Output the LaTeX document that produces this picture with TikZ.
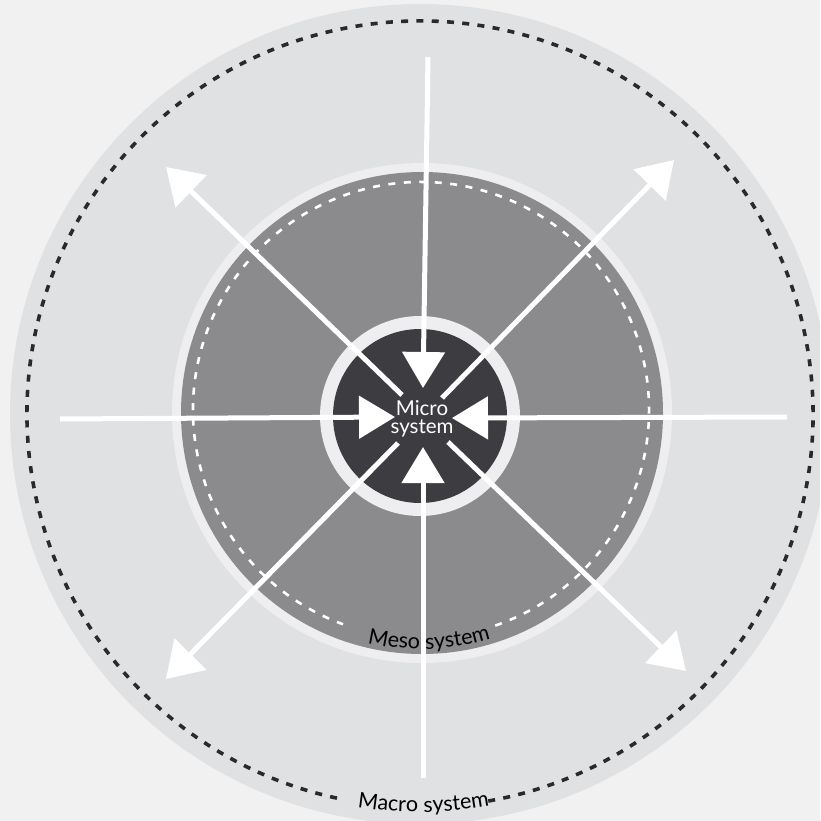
\documentclass[tikz,border=0pt]{standalone}
\usepackage{fontspec}
\setmainfont{Lato}
\usetikzlibrary{arrows.meta,decorations.text}
\definecolor{bgcol}{HTML}{F1F1F1}
\definecolor{macrofill}{HTML}{E0E1E3}
\definecolor{ringfill}{HTML}{EEEEF0}
\definecolor{mesofill}{HTML}{8B8B8E}
\definecolor{microfill}{HTML}{3D3C40}
\definecolor{dotcol}{HTML}{2A2A2A}
\begin{document}
\begin{tikzpicture}[x=1pt,y=-1pt,
  flow/.style={white, line width=5pt, -{Triangle[length=36pt,width=42pt]}},
  outflow/.style={white, line width=5pt, -{Triangle[length=35pt,width=44pt]}}]
\clip (0,0) rectangle (820,821);
\fill[bgcol] (0,0) rectangle (820,821);
% macro system
\fill[macrofill] (420,414) circle[radius=410];
\draw[dotcol, line width=3.6pt, dash pattern=on 7pt off 8.3pt]
  (420,414) ++(80:393) arc[start angle=80, end angle=-259, radius=393];
% meso system
\fill[ringfill] (422,413) circle[radius=250];
\fill[mesofill] (422,413) circle[radius=241];
\draw[white, line width=2.6pt, dash pattern=on 7pt off 8.5pt]
  (421,410) ++(71:228) arc[start angle=71, end angle=-250, radius=228];
% micro system
\fill[ringfill] (420,416) circle[radius=100];
\fill[microfill] (420,416) circle[radius=87];
% coordinates for arrows
\coordinate (nT) at (428,57);  \coordinate (tT) at (423,388);
\coordinate (nL) at (60,419);  \coordinate (tL) at (395,417);
\coordinate (nR) at (787,417); \coordinate (tR) at (452,418);
\coordinate (nB) at (423,778); \coordinate (tB) at (423,447);
\coordinate (sUL) at (402,395); \coordinate (eUL) at (166,167);
\coordinate (sUR) at (442,398); \coordinate (eUR) at (674,160);
\coordinate (sLL) at (398,443); \coordinate (eLL) at (166,679);
\coordinate (sLR) at (448,442); \coordinate (eLR) at (686,671);
\draw[flow] (nT) -- (tT);
\draw[flow] (nL) -- (tL);
\draw[flow] (nR) -- (tR);
\draw[flow] (nB) -- (tB);
\draw[outflow] (sUL) -- (eUL);
\draw[outflow] (sUR) -- (eUR);
\draw[outflow] (sLL) -- (eLL);
\draw[outflow] (sLR) -- (eLR);
% labels
\node[text=white, align=center, inner sep=0pt, font=\fontsize{20.5}{18.5}\selectfont] (micro) at (422,419) {Micro\\system};
\path[decorate, decoration={text along path, text color=black, text align=center, text={|\fontsize{21.5}{21.5}\selectfont|Meso system}}]
  (421,410) ++(118:239) arc[start angle=118, end angle=58, radius=239];
\path[decorate, decoration={text along path, text color=black, text align=center, text={|\fontsize{21.5}{21.5}\selectfont|Macro system}}]
  (420,414) ++(106:398) arc[start angle=106, end angle=73, radius=398];
\end{tikzpicture}
\end{document}
